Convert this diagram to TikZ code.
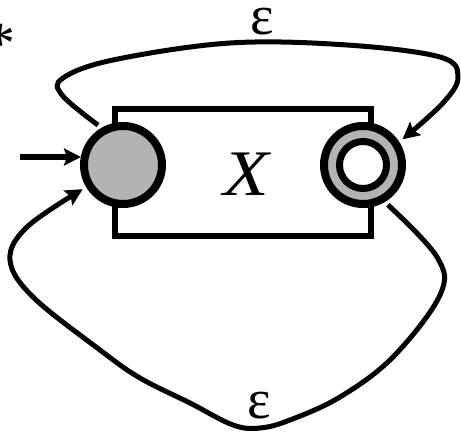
\documentclass[tikz,border=0pt]{standalone}
\usepackage{fontspec}
\setmainfont{Liberation Serif}
\usetikzlibrary{arrows.meta}
\definecolor{fillgray}{RGB}{179,179,179}
\begin{document}
\begin{tikzpicture}[x=1pt,y=-1pt,
  state/.style={circle, draw, line width=8pt, fill=fillgray, minimum size=78pt, inner sep=0pt, outer sep=8pt},
  innerring/.style={circle, draw, line width=7pt, fill=white, minimum size=47pt, inner sep=0pt},
  tipstyle/.style={-{Stealth[length=17pt,width=17pt,inset=3pt]}},
  loopline/.style={line width=5pt, tipstyle},
  lbl/.style={font=\fontsize{56}{60}\selectfont, inner sep=0pt}]
\useasboundingbox (0,0) rectangle (461,433);
\node[draw, line width=6.5pt, minimum width=256pt, minimum height=127pt, inner sep=0pt] (box) at (243,172.5) {};
\node[font=\fontsize{65}{70}\selectfont\itshape, inner sep=0pt, xscale=1.15] (x) at (246,174) {X};
\node[state] (s) at (123,165) {};
\node[state] (f) at (363,165) {};
\node[innerring] (fi) at (f) {};
\node[font=\fontsize{60}{70}\selectfont, inner sep=0pt, anchor=base] (star) at (0,64) {*};
\coordinate (in) at (20,157);
\draw[line width=6pt, tipstyle, shorten >=-5pt] (in) -- (s.west |- in);
\draw[loopline] plot[smooth, tension=0.6] coordinates {(s.122) (62,95) (63,78) (113,60) (230,43) (347,45) (440,57) (458,77) (443,103) (f.33)};
\draw[loopline] plot[smooth, tension=0.6] coordinates {(f.-58) (437,257) (440,295) (393,357) (340,397) (290,420) (260,428) (233,425) (190,403) (140,378) (100,350) (33,297) (10,260) (27,227) (s.211)};
\node[lbl] (e1) at (262,22) {ε};
\node[lbl] (e2) at (259,406) {ε};
\end{tikzpicture}
\end{document}
